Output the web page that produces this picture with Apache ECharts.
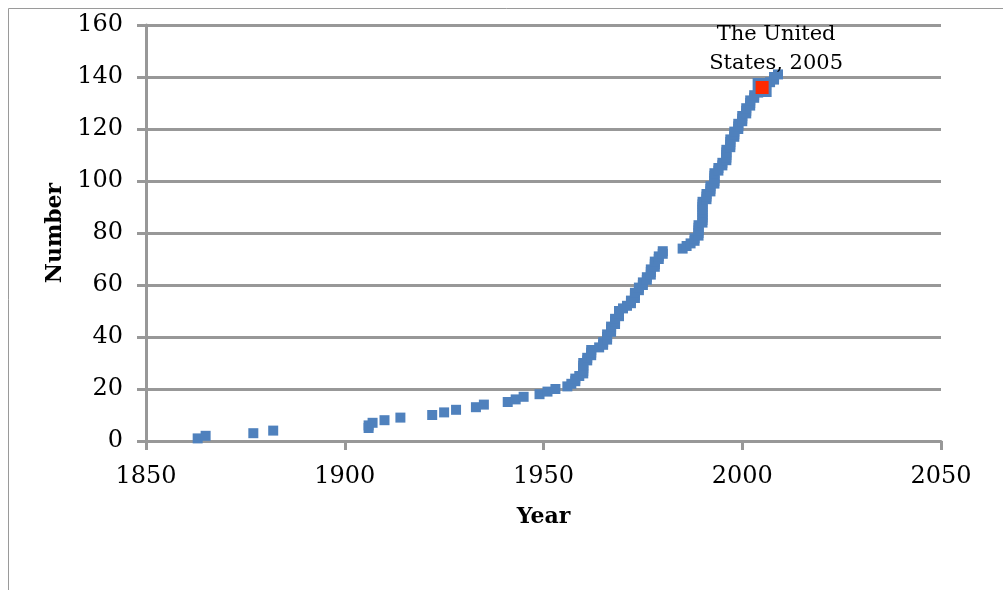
<!DOCTYPE html>
<html>
<head>
<meta charset="utf-8">
<script src="https://cdn.jsdelivr.net/npm/echarts@6/dist/echarts.min.js"></script>
<style>html,body{margin:0;padding:0;background:#fff;}#c{width:1003px;height:590px;}</style>
</head>
<body>
<div id="c"></div>
<script>
// Year of each entry (one point per cumulative count)
const years = [
  1863,1865,1877,1882,1906,1906,1907,1910,1914,1922,1925,1928,1933,1935,1941,1943,1945,1949,1951,1953,
  1956,1957,1958,1958,1959,1960,1960,1960,1960,1960,1961,1961,1962,1962,1962,1964,1965,1965,1966,1966,
  1966,1967,1967,1967,1968,1968,1968,1969,1969,1969,1970,1971,1972,1972,1973,1973,1973,1974,1974,1975,
  1975,1976,1976,1977,1977,1977,1978,1978,1978,1979,1979,1980,1980,1985,1986,1987,1988,1988,1989,1989,
  1989,1989,1989,1990,1990,1990,1990,1990,1990,1990,1990,1990,1991,1991,1991,1992,1992,1992,1993,1993,
  1993,1993,1993,1994,1994,1995,1995,1996,1996,1996,1996,1996,1997,1997,1997,1997,1998,1998,1998,1999,
  1999,1999,2000,2000,2000,2001,2001,2001,2002,2002,2002,2003,2003,2004,2004,2006,2007,2008,2008,2009
];
// Cumulative number for each entry
const numbers = [
  1,2,3,4,5,6,7,8,9,10,11,12,13,14,15,16,17,18,19,20,
  21,22,23,24,25,26,27,28,29,30,31,32,33,34,35,36,37,38,39,40,
  41,42,43,44,45,46,47,48,49,50,51,52,53,54,55,56,57,58,59,60,
  61,62,63,64,65,66,67,68,69,70,71,72,73,74,75,76,77,78,79,80,
  81,82,83,84,85,86,87,88,89,90,91,92,93,94,95,96,97,98,99,100,
  101,102,103,104,105,106,107,108,109,110,111,112,113,114,115,116,117,118,119,120,
  121,122,123,124,125,126,127,128,129,130,131,132,133,134,135,137,138,139,140,141
];
// Highlighted point
const highlightName = "The United\nStates, 2005";
const highlightYear = [2005];
const highlightNumber = [136];

const xTicks = { min: 1850, max: 2050, interval: 50 };
const yTicks = { min: 0, max: 160, interval: 20 };

const serif = '"DejaVu Serif", "Liberation Serif", serif';
const gray = '#989898';

const chart = echarts.init(document.getElementById('c'), null, { renderer: 'canvas' });
chart.setOption({
  backgroundColor: '#ffffff',
  animation: false,
  graphic: [{
    type: 'rect', silent: true, z: -10,
    shape: { x: 8.5, y: 8.5, width: 1010, height: 620 },
    style: { fill: 'none', stroke: '#9a9a9a', lineWidth: 1 }
  }],
  grid: { left: 146, right: 62, top: 25, bottom: 149, containLabel: false },
  xAxis: {
    type: 'value', min: xTicks.min, max: xTicks.max, interval: xTicks.interval,
    name: 'Year', nameLocation: 'middle', nameGap: 65,
    nameTextStyle: { fontFamily: serif, fontWeight: 'bold', fontSize: 22, color: '#000' },
    axisLine: { show: true, onZero: false, lineStyle: { color: gray, width: 3 } },
    axisTick: { show: true, inside: false, length: 9, lineStyle: { color: gray, width: 3 } },
    axisLabel: { fontFamily: serif, fontSize: 24, color: '#000', margin: 24, formatter: v => String(v) },
    splitLine: { show: false }
  },
  yAxis: {
    type: 'value', min: yTicks.min, max: yTicks.max, interval: yTicks.interval,
    name: 'Number', nameLocation: 'middle', nameGap: 80, nameRotate: 90,
    nameTextStyle: { fontFamily: serif, fontWeight: 'bold', fontSize: 22, color: '#000' },
    axisLine: { show: true, lineStyle: { color: gray, width: 3 } },
    axisTick: { show: true, inside: false, length: 9, lineStyle: { color: gray, width: 3 } },
    axisLabel: { fontFamily: serif, fontSize: 24, color: '#000', margin: 23, formatter: v => String(v) },
    splitLine: { show: true, lineStyle: { color: gray, width: 3 } }
  },
  series: [
    {
      type: 'scatter', symbol: 'rect', symbolSize: 10,
      itemStyle: { color: '#4f81bd', opacity: 1 },
      data: years.map((y, i) => [y, numbers[i]]),
      z: 2
    },
    {
      type: 'scatter', symbol: 'rect', symbolSize: 16,
      itemStyle: { color: '#ff2a00', borderColor: '#4f81bd', borderWidth: 3, opacity: 1 },
      data: highlightYear.map((y, i) => ({ value: [y, highlightNumber[i]], name: highlightName })),
      label: {
        show: true, position: 'top', distance: 0, offset: [14, 0],
        formatter: p => p.name, align: 'center',
        fontFamily: serif, fontSize: 21, lineHeight: 29, color: '#000'
      },
      z: 3
    }
  ]
});
</script>
</body>
</html>
